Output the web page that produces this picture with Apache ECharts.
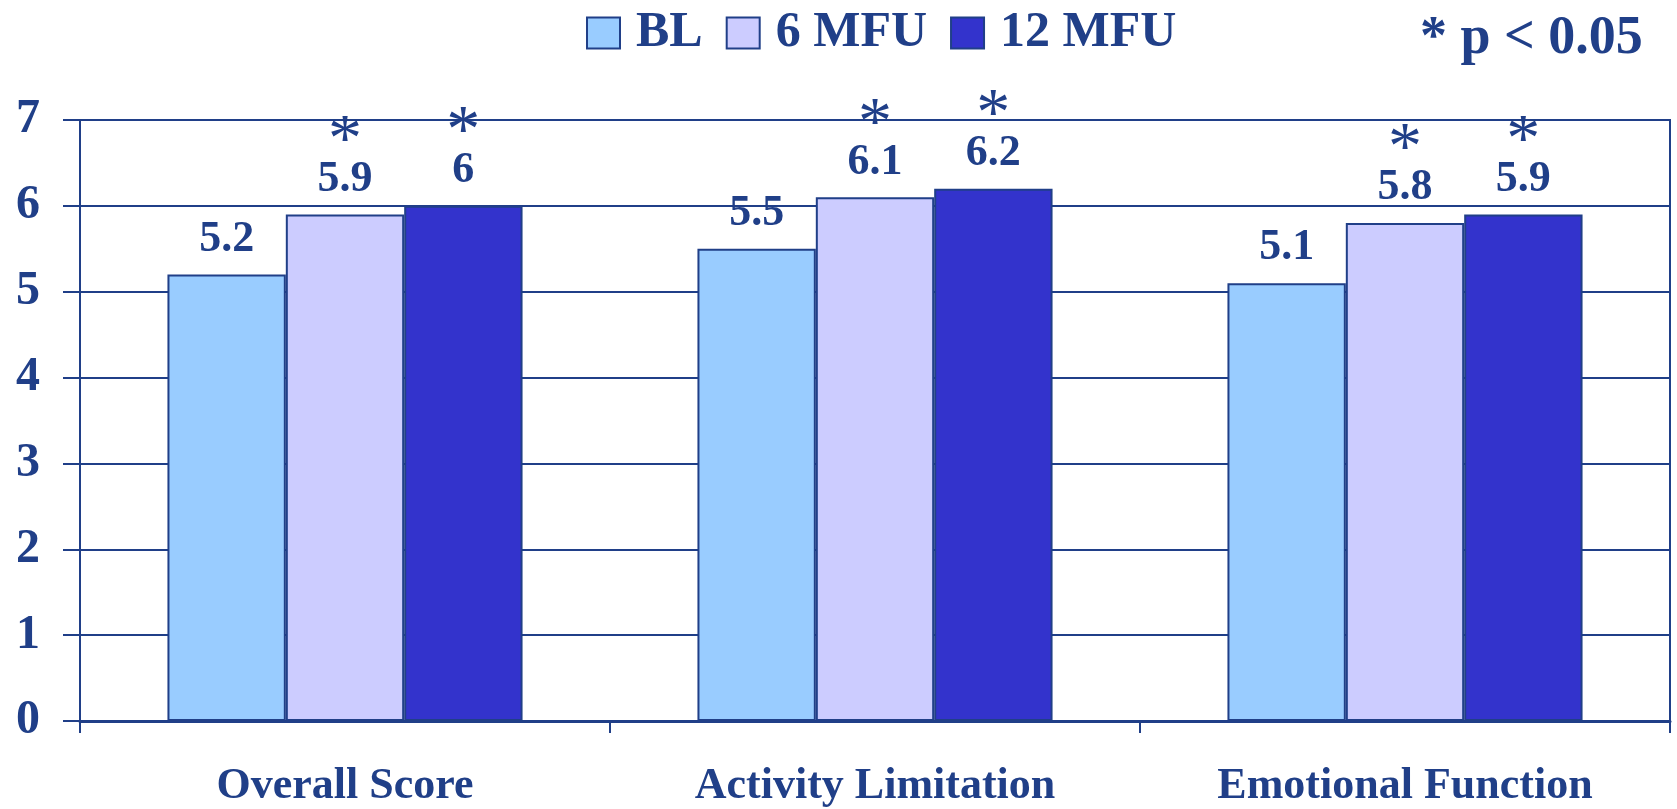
<!DOCTYPE html>
<html>
<head>
<meta charset="utf-8">
<title>Quality of life scores</title>
<script src="https://cdn.jsdelivr.net/npm/echarts@6/dist/echarts.min.js"></script>
<style>
  html, body { margin: 0; padding: 0; background: #ffffff; }
  #chart { width: 1677px; height: 809px; }
</style>
</head>
<body>
<div id="chart"></div>
<script>
// Domains and scores at baseline and at 6- and 12-month follow-up
var categories = ['Overall Score', 'Activity Limitation', 'Emotional Function'];
var seriesNames = ['BL', '6 MFU', '12 MFU'];
var blValues = [5.2, 5.5, 5.1];
var mfu6Values = [5.9, 6.1, 5.8];
var mfu12Values = [6.0, 6.2, 5.9];
// Significance flags (p < 0.05) per value
var mfu6Significant = [true, true, true];
var mfu12Significant = [true, true, true];
var yTicks = [0, 1, 2, 3, 4, 5, 6, 7];
var noteText = '* p < 0.05';

var INK = '#203f88';
var FONT = "'Liberation Serif', 'Times New Roman', serif";
var colors = ['#99ccff', '#ccccff', '#3333cc'];

function valueText(v) {
  return Number.isInteger(v) ? String(v) : v.toFixed(1);
}

function makeSeries(name, values, flags, color) {
  return {
    name: name,
    type: 'bar',
    barGap: '0%',
    barCategoryGap: '33%',
    data: values.map(function (v, i) {
      return { value: v, sig: flags ? flags[i] : false };
    }),
    itemStyle: { color: color, borderColor: INK, borderWidth: 2 },
    label: {
      show: true,
      position: 'top',
      distance: 13,
      formatter: function (p) {
        var t = '{v|' + valueText(p.value) + '}';
        return p.data.sig ? '{s|*}\n' + t : t;
      },
      rich: {
        v: { fontFamily: FONT, fontWeight: 'bold', fontSize: 44, color: INK, lineHeight: 44 },
        s: { fontFamily: FONT, fontWeight: 'normal', fontSize: 68, color: INK, lineHeight: 31 }
      }
    }
  };
}

var chart = echarts.init(document.getElementById('chart'), null, { renderer: 'canvas' });

chart.setOption({
  animation: false,
  backgroundColor: '#ffffff',
  color: colors,
  legend: {
    data: seriesNames,
    left: 581,
    top: 3,
    itemWidth: 33,
    itemHeight: 31,
    itemGap: 23,
    icon: 'rect',
    itemStyle: { borderColor: INK, borderWidth: 2 },
    textStyle: {
      fontFamily: FONT, fontWeight: 'bold', fontSize: 50, color: INK,
      padding: [0, 0, 0, 11]
    }
  },
  graphic: [{
    type: 'text',
    left: 1420,
    top: 12,
    style: {
      text: noteText,
      fontFamily: FONT, fontWeight: 'bold', fontSize: 54, fill: INK
    }
  }],
  grid: {
    left: 80, right: 7, top: 120, bottom: 84,
    show: true, borderColor: INK, borderWidth: 2, backgroundColor: 'transparent'
  },
  xAxis: {
    type: 'category',
    data: categories,
    axisLine: { show: true, lineStyle: { color: INK, width: 3 } },
    axisTick: { show: true, length: 12, lineStyle: { color: INK, width: 2 } },
    axisLabel: {
      margin: 44,
      fontFamily: FONT, fontWeight: 'bold', fontSize: 44, color: INK
    }
  },
  yAxis: {
    type: 'value',
    min: yTicks[0],
    max: yTicks[yTicks.length - 1],
    interval: 1,
    axisLine: { show: true, lineStyle: { color: INK, width: 2 } },
    axisTick: { show: true, length: 17, lineStyle: { color: INK, width: 2 } },
    splitLine: { show: true, lineStyle: { color: INK, width: 2 } },
    axisLabel: {
      margin: 40,
      fontFamily: FONT, fontWeight: 'bold', fontSize: 48, color: INK
    }
  },
  series: [
    makeSeries(seriesNames[0], blValues, null, colors[0]),
    makeSeries(seriesNames[1], mfu6Values, mfu6Significant, colors[1]),
    makeSeries(seriesNames[2], mfu12Values, mfu12Significant, colors[2])
  ]
});
</script>
</body>
</html>
